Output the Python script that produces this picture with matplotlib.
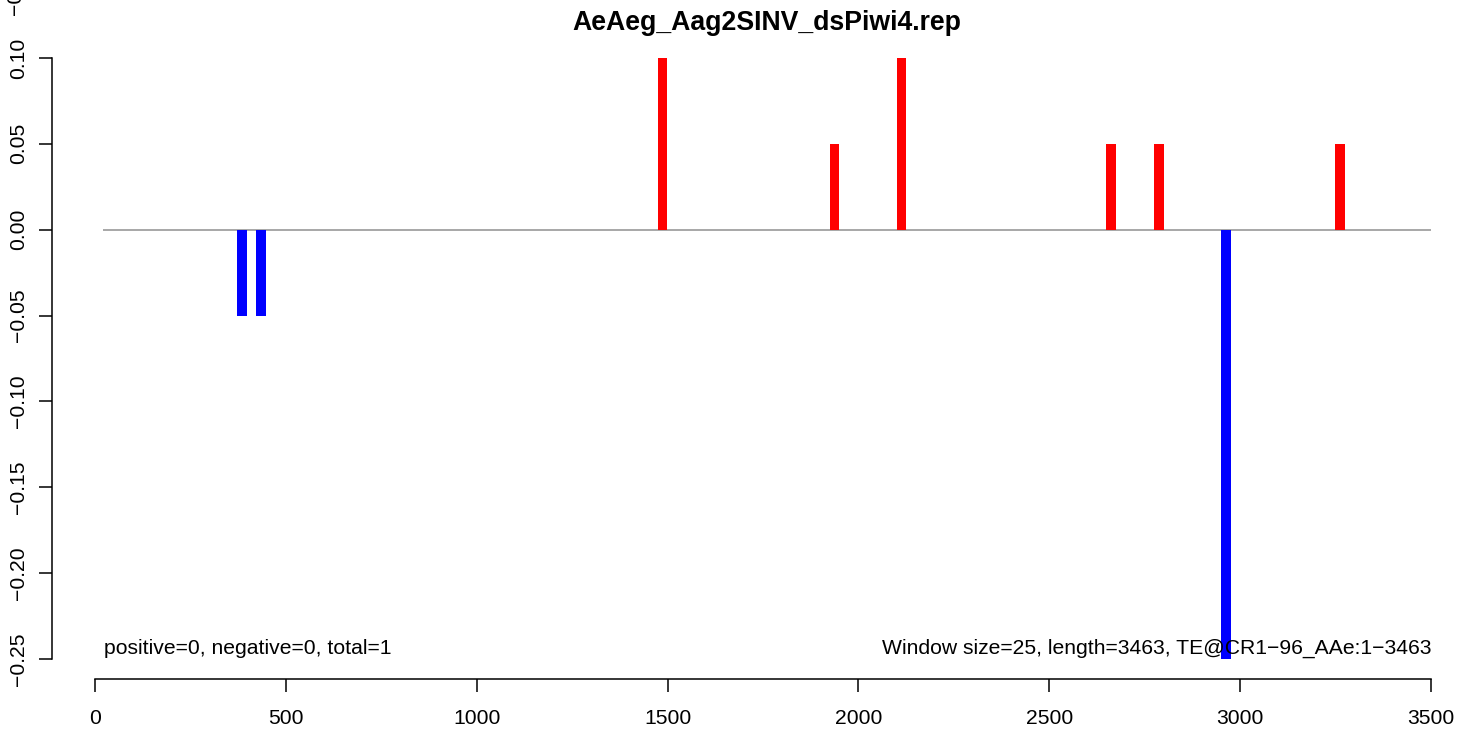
import matplotlib.pyplot as plt
from matplotlib import font_manager
import numpy as np

plt.rcParams['font.family'] = ['Liberation Sans', 'DejaVu Sans']

# window positions and signal values
pos_x = [1487, 1937, 2113, 2662, 2788, 3262]
pos_y = [0.10, 0.05, 0.10, 0.05, 0.05, 0.05]
neg_x = [385, 435, 2963]
neg_y = [-0.05, -0.05, -0.25]
window = 25
title = 'AeAeg_Aag2SINV_dsPiwi4.rep'
left_note = 'positive=0, negative=0, total=1'
right_note = 'Window size=25, length=3463, TE@CR1\u221296_AAe:1\u22123463'
xticks = [0, 500, 1000, 1500, 2000, 2500, 3000, 3500]
yticks = [0.10, 0.05, 0.00, -0.05, -0.10, -0.15, -0.20, -0.25]

# pick the regular (not narrow) Liberation Sans files
reg, bold = None, None
for f in font_manager.findSystemFonts():
    name = f.split('/')[-1]
    if name == 'LiberationSans-Regular.ttf':
        reg = f
    if name == 'LiberationSans-Bold.ttf':
        bold = f
fp = font_manager.FontProperties(fname=reg, size=15.2) if reg else font_manager.FontProperties(family='Liberation Sans', size=15.2)
fpb = font_manager.FontProperties(fname=bold, size=19.2) if bold else font_manager.FontProperties(family='Liberation Sans', weight='bold', size=19.2)

W, H = 1460, 730
fig = plt.figure(figsize=(W / 100, H / 100), dpi=100)
ax = fig.add_axes([95 / W, (H - 659) / H, (1431 - 95) / W, (659 - 58) / H])

ax.hlines(0, 21, 3500, color='#a0a0a0', lw=1.3, zorder=1)
ax.bar(pos_x, pos_y, width=window, color='red', zorder=2)
ax.bar(neg_x, neg_y, width=window, color='blue', zorder=2)

ax.set_xlim(0, 3500)
ax.set_ylim(-0.25, 0.10)

for s in ['top', 'right']:
    ax.spines[s].set_visible(False)
ax.spines['left'].set_position(('outward', 43 * 0.72))
ax.spines['bottom'].set_position(('outward', 20 * 0.72))
for s in ['left', 'bottom']:
    ax.spines[s].set_linewidth(1.1)
ax.tick_params(axis='both', length=9.4, width=1.1, color='black', labelsize=15.2)
ax.tick_params(axis='y', pad=8)
ax.tick_params(axis='x', pad=12.5)

ax.set_xticks(xticks)
ax.set_xticklabels([str(t) for t in xticks], fontproperties=fp)
ax.set_yticks(yticks)
ax.set_yticklabels([('%.2f' % t).replace('-', '\u2212') for t in yticks],
                   fontproperties=fp, rotation=90, va='center')

ax.text(23, -0.2436, left_note, fontproperties=fp, ha='left', va='center')
ax.text(3500, -0.2436, right_note, fontproperties=fp, ha='right', va='center')

fig.text(767 / W, 1 - 23 / H, title, fontproperties=fpb,
         ha='center', va='center')
# clipped leftover label at the top-left corner
fig.text(15 / W, 1 - 15 / H, '\u22120.15', fontproperties=fp, rotation=90,
         ha='center', va='bottom')

fig.savefig('out.png', dpi=100)
